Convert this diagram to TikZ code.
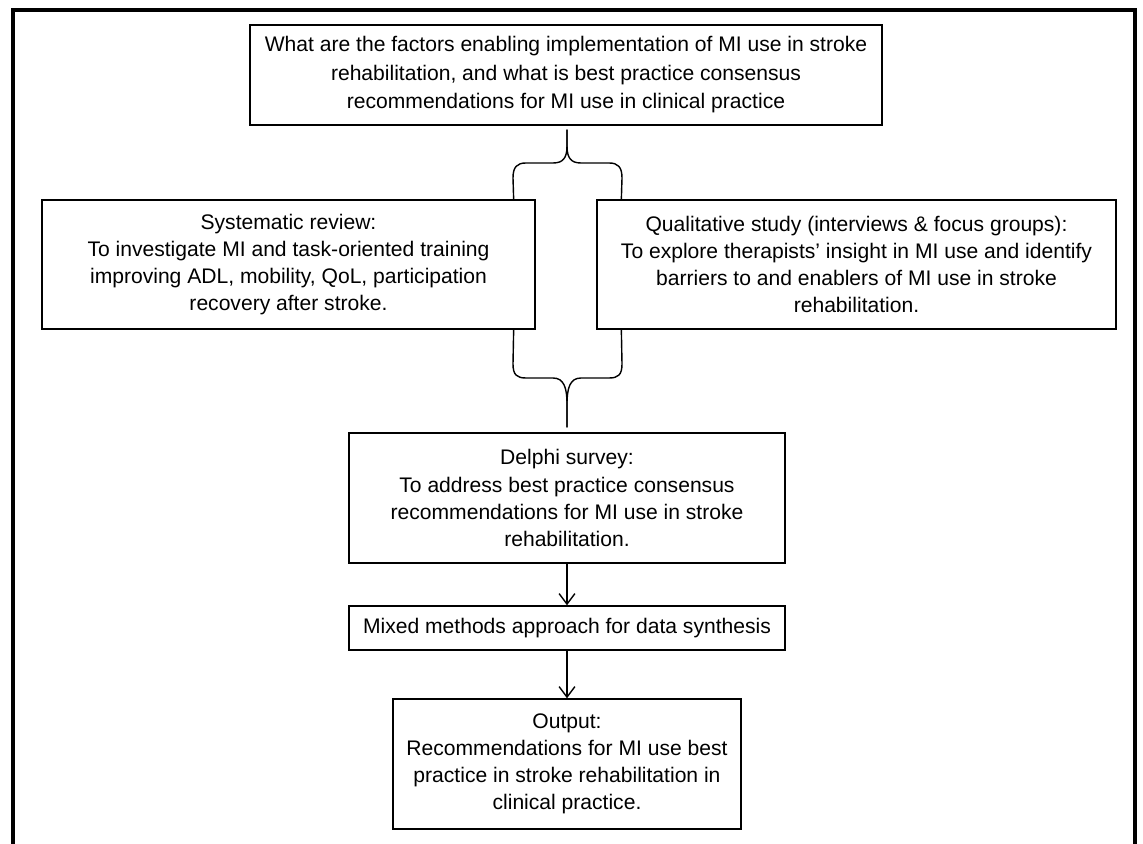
\documentclass[tikz,border=0pt]{standalone}
\usepackage{fontspec}
\setmainfont{Liberation Sans}
\usepackage{tikz}
\usetikzlibrary{positioning,calc,arrows.meta}
\tikzstyle{box}=[draw, line width=0.8pt, align=center, inner sep=2pt, font=\fontsize{12}{15.4}\selectfont]
\tikzstyle{arrow}=[draw, line width=0.8pt, -{Straight Barb[length=6pt,width=9pt]}]
\tikzstyle{brace}=[draw, line width=0.8pt]

\begin{document}
\begin{tikzpicture}[x=0.02cm, y=-0.02cm]

            \useasboundingbox (0,0) rectangle (1143,844);

            % Outer frame (open at the bottom)
            \draw[line width=2.4pt] (13,844) -- (13,10) -- (1135,10) -- (1135,844);

            % Research question
            \node[box, font=\fontsize{12}{16.2}\selectfont, minimum width=12.64cm, minimum height=2cm] (question) at (566,75)
                {What are the factors enabling implementation of MI use in stroke\\
                 rehabilitation, and what is best practice consensus\\
                 recommendations for MI use in clinical practice};

            % Two studies side by side
            \node[box, minimum width=9.86cm, minimum height=2.58cm] (review) at (288.5,264.5)
                {Systematic review:\\
                 To investigate MI and task-oriented training\\
                 improving ADL, mobility, QoL, participation\\
                 recovery after stroke.};
            \node[box, minimum width=10.38cm, minimum height=2.58cm] (qualitative) at (856.5,264.5)
                {Qualitative study (interviews \& focus groups):\\
                 To explore therapists’ insight in MI use and identify\\
                 barriers to and enablers of MI use in stroke\\
                 rehabilitation.};

            % Delphi, synthesis and output
            \node[box, minimum width=8.72cm, minimum height=2.6cm] (delphi) at (567,498)
                {Delphi survey:\\
                 To address best practice consensus\\
                 recommendations for MI use in stroke\\
                 rehabilitation.};
            \node[box, minimum width=8.72cm, minimum height=0.88cm] (mixed) at (567,628)
                {Mixed methods approach for data synthesis};
            \node[box, minimum width=6.96cm, minimum height=2.6cm] (output) at (567,764)
                {Output:\\
                 Recommendations for MI use best\\
                 practice in stroke rehabilitation in\\
                 clinical practice.};

            % Brace ends
            \coordinate (tipA) at ($(question.south)+(1,4)$);
            \coordinate (armAL) at ($(review.north east)+(-22,0)$);
            \coordinate (armAR) at ($(qualitative.north west)+(25,0)$);
            \coordinate (tipB) at ($(delphi.north)+(0,-5)$);
            \coordinate (armBL) at ($(review.south east)+(-22,0)$);
            \coordinate (armBR) at ($(qualitative.south west)+(25,0)$);

            % Upper brace
            \draw[brace] (armAL) -- (513,178) .. controls +(0,-11) and +(-9,0) .. (526,163)
                -- (553,163) .. controls +(10,0) and +(0,12) .. (567,146) -- (tipA);
            \draw[brace] (tipA) -- (567,146) .. controls +(0,12) and +(-10,0) .. (581,163)
                -- (609,163) .. controls +(9,0) and +(0,-11) .. (622,178) -- (armAR);

            % Lower brace
            \draw[brace] (armBL) -- (513,364) .. controls +(0,11) and +(-9,0) .. (526,378)
                -- (553,378) .. controls +(11,0) and +(0,-16) .. (567,404) -- (tipB);
            \draw[brace] (tipB) -- (567,404) .. controls +(0,-16) and +(-11,0) .. (581,378)
                -- (609,378) .. controls +(9,0) and +(0,11) .. (622,364) -- (armBR);

            % Arrows
            \draw[arrow] (delphi) -- (mixed);
            \draw[arrow] (mixed) -- (output);

        \end{tikzpicture}
\end{document}
